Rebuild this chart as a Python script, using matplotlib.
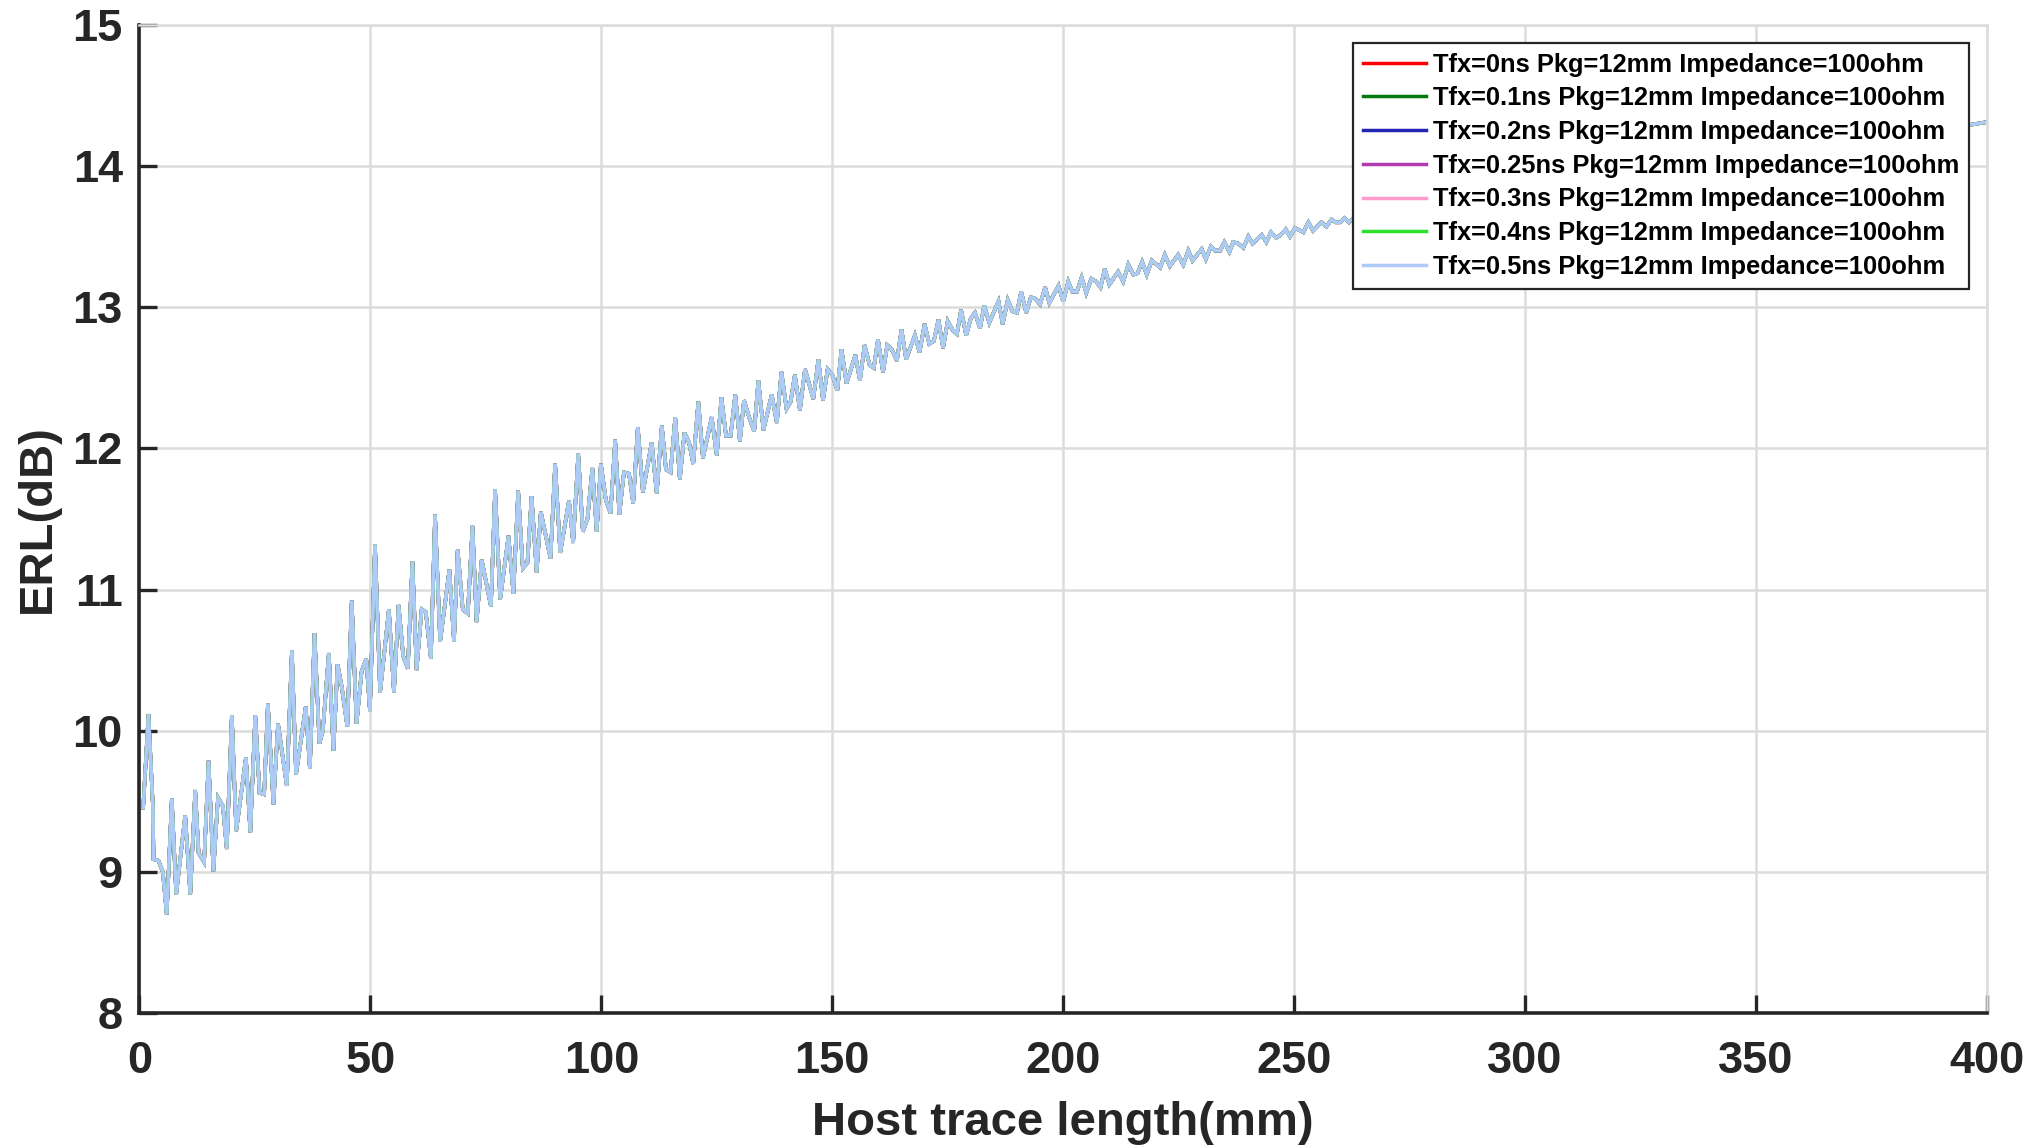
import matplotlib
matplotlib.use("Agg")
import matplotlib.pyplot as plt

# Host trace length (mm) and ERL (dB) (peaks/troughs)
trace_mm = [
    0.8, 1.95, 2.9, 3.05, 4.1, 5.06, 5.9, 7.0, 7.95, 9.9, 11.0, 12.07, 12.8, 14.0,
    14.96, 16.0, 17.0, 18.06, 18.9, 20.0, 20.95, 23.05, 24.0, 25.07, 26.0, 27.0,
    27.8, 29.0, 30.0, 31.9, 33.0, 33.9, 36.0, 36.9, 37.9, 38.96, 39.7, 41.0, 42.0,
    42.9, 43.8, 45.0, 45.96, 47.0, 48.1, 49.1, 49.9, 51.0, 52.1, 54.0, 55.1, 56.1,
    57.1, 58.1, 59.1, 60.0, 61.1, 62.0, 63.1, 64.0, 65.1, 67.1, 68.1, 68.9, 70.0,
    71.1, 72.1, 73.0, 74.1, 76.1, 77.0, 78.1, 79.9, 80.96, 82.0, 83.0, 84.0, 84.9,
    86.0, 86.9, 89.0, 90.0, 91.1, 93.0, 93.9, 95.0, 96.0, 97.0, 98.06, 99.0, 99.9,
    101.0, 102.0, 103.0, 103.9, 104.9, 106.0, 106.9, 107.9, 109.0, 110.9, 112.0,
    113.1, 114.0, 115.0, 116.0, 117.0, 118.0, 119.0, 119.9, 121.0, 122.0, 123.9,
    125.0, 126.0, 127.0, 128.0, 129.0, 130.0, 130.9, 132.0, 133.1, 134.0, 135.1,
    136.9, 138.0, 139.0, 140.1, 141.0, 141.9, 143.0, 144.1, 145.9, 147.0, 148.0,
    149.0, 150.0, 151.1, 152.0, 153.1, 155.0, 156.0, 157.0, 158.1, 159.0, 159.9,
    161.0, 161.9, 162.9, 164.0, 165.0, 166.0, 167.9, 168.9, 170.0, 171.0, 172.0,
    173.0, 174.0, 175.0, 176.0, 177.0, 177.9, 179.0, 180.0, 180.9, 182.0, 182.9,
    184.0, 186.0, 186.9, 188.0, 189.0, 190.0, 190.9, 192.0, 193.0, 193.9, 195.0,
    196.1, 197.0, 199.0, 200.0, 201.1, 202.0, 203.0, 204.0, 205.0, 206.1, 207.2,
    208.1, 209.0, 210.0, 211.9, 213.0, 214.1, 215.2, 216.1, 217.1, 218.1, 219.2,
    221.0, 222.0, 223.1, 224.9, 226.0, 227.1, 228.0, 230.0, 230.9, 232.0, 232.9,
    234.0, 234.9, 236.0, 236.8, 237.9, 239.0, 240.1, 241.0, 243.0, 244.0, 245.0,
    246.1, 247.1, 248.2, 249.1, 250.2, 252.0, 253.1, 254.1, 255.9, 257.0, 258.1,
    259.0, 259.9, 260.9, 261.9, 263.1, 264.5, 300.0, 350.0, 396.3, 400.0,
]
erl_db = [
    9.455, 10.118, 9.47, 9.09, 9.08, 9.0, 8.70, 9.52, 8.84, 9.40, 8.84, 9.58, 9.135, 9.07,
    9.787, 9.005, 9.526, 9.467, 9.163, 10.11, 9.29, 9.81, 9.28, 10.11, 9.56, 9.55,
    10.19, 9.48, 10.05, 9.61, 10.57, 9.69, 10.17, 9.73, 10.69, 9.91, 10.0, 10.55, 9.86,
    10.47, 10.31, 10.03, 10.92, 10.05, 10.42, 10.51, 10.14, 11.32, 10.27, 10.86, 10.27, 10.89,
    10.53, 10.44, 11.2, 10.43, 10.86, 10.84, 10.51, 11.53, 10.63, 11.14, 10.63, 11.28, 10.86,
    10.83, 11.45, 10.77, 11.21, 10.88, 11.71, 10.93, 11.38, 10.97, 11.70, 11.15, 11.19, 11.66,
    11.12, 11.55, 11.22, 11.89, 11.26, 11.63, 11.33, 11.96, 11.41, 11.50, 11.86, 11.41, 11.89,
    11.63, 11.54, 12.06, 11.53, 11.83, 11.82, 11.61, 12.15, 11.69, 12.04, 11.68,
    12.16, 11.85, 11.83, 12.22, 11.78, 12.11, 12.04, 11.89, 12.33, 11.93, 12.22,
    11.95, 12.36, 12.09, 12.09, 12.38, 12.05, 12.34, 12.22, 12.12, 12.48, 12.13,
    12.38, 12.18, 12.54, 12.28, 12.33, 12.52, 12.27, 12.56, 12.35, 12.63, 12.34,
    12.56, 12.52, 12.41, 12.70, 12.46, 12.66, 12.48, 12.73, 12.59, 12.57, 12.77,
    12.54, 12.73, 12.70, 12.62, 12.84, 12.63, 12.80, 12.68, 12.88, 12.74, 12.76,
    12.91, 12.71, 12.90, 12.84, 12.81, 12.98, 12.80, 12.92, 12.96, 12.85, 13.01,
    12.89, 13.04, 12.88, 13.05, 12.97, 12.96, 13.11, 12.96, 13.07, 13.06, 13.02,
    13.14, 13.03, 13.15, 13.04, 13.18, 13.11, 13.11, 13.21, 13.10, 13.20, 13.18,
    13.14, 13.27, 13.16, 13.25, 13.18, 13.30, 13.23, 13.24, 13.32, 13.23, 13.33,
    13.28, 13.37, 13.29, 13.37, 13.30, 13.40, 13.33, 13.41, 13.34, 13.43, 13.40,
    13.40, 13.46, 13.39, 13.46, 13.45, 13.42, 13.50, 13.45, 13.51, 13.46, 13.53,
    13.49, 13.51, 13.55, 13.50, 13.56, 13.53, 13.60, 13.54, 13.60, 13.57, 13.62,
    13.60, 13.60, 13.63, 13.60, 13.64, 13.63, 13.90, 14.12, 14.29, 14.31,
]

series_labels = [
    "Tfx=0ns Pkg=12mm Impedance=100ohm",
    "Tfx=0.1ns Pkg=12mm Impedance=100ohm",
    "Tfx=0.2ns Pkg=12mm Impedance=100ohm",
    "Tfx=0.25ns Pkg=12mm Impedance=100ohm",
    "Tfx=0.3ns Pkg=12mm Impedance=100ohm",
    "Tfx=0.4ns Pkg=12mm Impedance=100ohm",
    "Tfx=0.5ns Pkg=12mm Impedance=100ohm",
]
series_colors = ["#ff0000", "#007a10", "#2626b4", "#b03cb0", "#ff9ccc", "#2ee02e", "#aecbf7"]

x_ticks = [0, 50, 100, 150, 200, 250, 300, 350, 400]
y_ticks = [8, 9, 10, 11, 12, 13, 14, 15]

plt.rcParams['font.family'] = ['Liberation Sans', 'DejaVu Sans']

fig = plt.figure(figsize=(20.42, 11.46), dpi=100)
ax = fig.add_axes([0.0683, 0.1159, 0.9047, 0.8626])

for lab, col in zip(series_labels, series_colors):
    ax.plot(trace_mm, erl_db, color=col, lw=2.5, label=lab, solid_joinstyle='miter')

ax.set_xlim(0, 400)
ax.set_ylim(8, 15)
ax.set_xticks(x_ticks)
ax.set_yticks(y_ticks)
ax.grid(True, color="#dcdcdc", lw=1.8)
ax.set_axisbelow(True)

for s in ['left', 'bottom']:
    ax.spines[s].set_linewidth(2.6)
    ax.spines[s].set_color('#262626')
for s in ['top', 'right']:
    ax.spines[s].set_linewidth(1.8)
    ax.spines[s].set_color('#dcdcdc')

ax.tick_params(axis='both', direction='in', length=13, width=2.4, color='#262626',
               labelsize=32.5, labelcolor='#262626')
ax.tick_params(axis='x', pad=20)
ax.tick_params(axis='y', pad=12)
for t in ax.get_xticklabels() + ax.get_yticklabels():
    t.set_fontweight('bold')

ax.set_xlabel("Host trace length(mm)", fontsize=34, fontweight='bold', color='#262626', labelpad=14)
ax.set_ylabel("ERL(dB)", fontsize=34, fontweight='bold', color='#262626', labelpad=9)

leg = ax.legend(loc='upper right', bbox_to_anchor=(0.9903, 0.9815), borderaxespad=0,
                fancybox=False, frameon=True, edgecolor='#262626', framealpha=1,
                prop={'weight': 'bold', 'size': 18.4}, handlelength=2.5, handletextpad=0.25,
                labelspacing=0.38, borderpad=0.38)
leg.get_frame().set_linewidth(1.6)
for h in leg.get_lines():
    h.set_linewidth(2.5)

fig.savefig("out.png", dpi=100)
